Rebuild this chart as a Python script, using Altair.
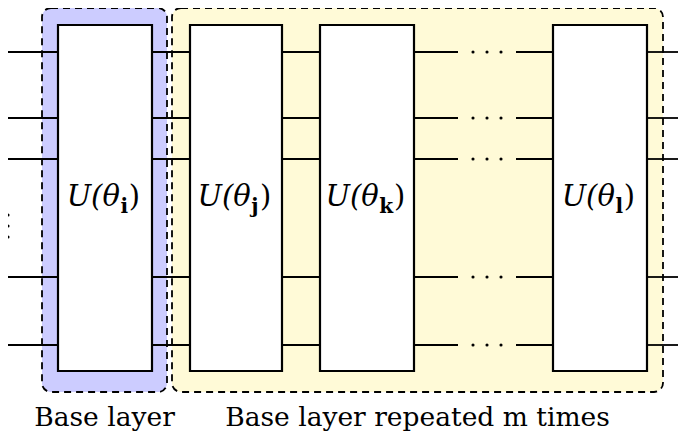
import altair as alt
import pandas as pd

# ---- diagram data (reference-pixel units) ----
group_names = ["Base layer", "Base layer repeated m times"]
group_x0 = [42, 172]
group_x1 = [167, 663]
group_y0 = [4, 4]
group_y1 = [392, 392]
group_colors = ["#ccccff", "#fffad7"]

gate_subs = ["i", "j", "k", "l"]
gate_x0 = [58, 190, 320, 553]
gate_x1 = [152, 282, 414, 647]
gate_top = 25
gate_bottom = 371

wire_y = [52, 118, 159, 277, 345]
seg_x0 = [5, 152, 282, 414, 516, 647]
seg_x1 = [58, 190, 320, 458, 553, 686]
hdots_x = [473, 487, 501]
hdots_wires = [52, 118, 159, 277, 345]
vdots_x = [5, 5, 5]
vdots_y = [215, 226, 237]

label_baseline = 426
gate_label_baseline = 206

# ---- tables ----
groups = pd.DataFrame({"name": group_names, "x0": group_x0, "x1": group_x1,
                       "y0": group_y0, "y1": group_y1})
groups["cx"] = (groups.x0 + groups.x1) / 2
groups["ly"] = label_baseline

gates = pd.DataFrame({"sub": gate_subs, "x0": gate_x0, "x1": gate_x1})
gates["y0"] = gate_top
gates["y1"] = gate_bottom

wires = pd.DataFrame([{"y": y, "x0": a, "x1": b}
                      for y in wire_y for a, b in zip(seg_x0, seg_x1)])
dots = pd.DataFrame([{"x": x, "y": y} for y in hdots_wires for x in hdots_x] +
                    [{"x": x, "y": y} for x, y in zip(vdots_x, vdots_y)])

# gate label pieces: "U(θ" (italic) + bold subscript + ")"
FONT = "DejaVu Serif"
FS = 29
SUB_FS = 20
w_head = 1.72 * FS          # approx. advance of "U(θ" in italic
w_par = 0.39 * FS
w_sub = {"i": 0.34 * SUB_FS, "j": 0.36 * SUB_FS, "k": 0.66 * SUB_FS, "l": 0.34 * SUB_FS}
head, subs, close = [], [], []
for s, a, b in zip(gate_subs, gate_x0, gate_x1):
    c = (a + b) / 2
    total = w_head + w_sub[s] + w_par + 2
    start = c - total / 2
    xe = start + w_head
    head.append({"t": "U(θ", "x": xe, "y": gate_label_baseline})
    subs.append({"t": s, "x": xe + 0.5, "y": gate_label_baseline + 7})
    close.append({"t": ")", "x": xe + w_sub[s] + 2, "y": gate_label_baseline})
head = pd.DataFrame(head)
subs = pd.DataFrame(subs)
close = pd.DataFrame(close)

W, H = 670, 427
xs = alt.Scale(domain=[8, 8 + W], nice=False, zero=False, clamp=True)
ys = alt.Scale(domain=[8, 8 + H], nice=False, zero=False, reverse=True, clamp=True)
X = lambda f: alt.X(f, scale=xs, axis=None)
Y = lambda f: alt.Y(f, scale=ys, axis=None)

frames = alt.Chart(groups).mark_rect(
    cornerRadius=9, stroke="black", strokeDash=[7, 5], strokeWidth=1.8
).encode(
    x=X("x0:Q"), x2="x1:Q", y=Y("y0:Q"), y2="y1:Q",
    fill=alt.Fill("name:N", scale=alt.Scale(domain=group_names, range=group_colors), legend=None),
)

wire_layer = alt.Chart(wires).mark_rule(color="black", strokeWidth=1.8).encode(
    x=X("x0:Q"), x2="x1:Q", y=Y("y:Q")
)

gate_layer = alt.Chart(gates).mark_rect(fill="white", stroke="black", strokeWidth=2.2).encode(
    x=X("x0:Q"), x2="x1:Q", y=Y("y0:Q"), y2="y1:Q"
)

dot_layer = alt.Chart(dots).mark_circle(color="black", size=10, opacity=1).encode(
    x=X("x:Q"), y=Y("y:Q")
)

t_head = alt.Chart(head).mark_text(font=FONT, fontSize=FS, fontStyle="italic",
                                   align="right", baseline="alphabetic", color="black").encode(
    x=X("x:Q"), y=Y("y:Q"), text="t:N")
t_sub = alt.Chart(subs).mark_text(font=FONT, fontSize=SUB_FS, fontWeight="bold",
                                  align="left", baseline="alphabetic", color="black").encode(
    x=X("x:Q"), y=Y("y:Q"), text="t:N")
t_close = alt.Chart(close).mark_text(font=FONT, fontSize=FS,
                                     align="left", baseline="alphabetic", color="black").encode(
    x=X("x:Q"), y=Y("y:Q"), text="t:N")

group_labels = alt.Chart(groups).mark_text(font=FONT, fontSize=26.5, align="center",
                                           baseline="alphabetic", color="black").encode(
    x=X("cx:Q"), y=Y("ly:Q"), text="name:N")

chart = alt.layer(frames, wire_layer, gate_layer, dot_layer, t_head, t_sub, t_close,
                  group_labels).properties(
    width=W, height=H, padding=0, autosize=alt.AutoSizeParams(type="none")
).configure_view(stroke=None)

chart.save("out.html", embed_options={"renderer": "svg", "actions": False})
